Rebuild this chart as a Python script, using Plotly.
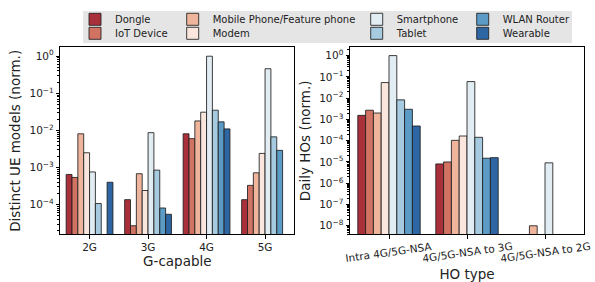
import plotly.graph_objects as go

# ---------------- data ----------------
devices = ["Dongle", "IoT Device", "Mobile Phone/Feature phone", "Modem",
           "Smartphone", "Tablet", "WLAN Router", "Wearable"]
colors = ["#a9303b", "#d27262", "#eeb49c", "#fae6dc",
          "#e2ecf3", "#a6cbe0", "#5b9bc5", "#2d66a3"]

g_categories = ["2G", "3G", "4G", "5G"]
# distinct UE models (norm.), per device, per G-capable category
ue_dongle     = [6.5e-4, 1.36e-4, 8.1e-3, 1.36e-4]
ue_iot        = [5.4e-4, 2.7e-5, 6.0e-3, 3.3e-4]
ue_mobile     = [8.1e-3, 6.8e-4, 1.8e-2, 7.2e-4]
ue_modem      = [2.5e-3, 2.4e-4, 3.1e-2, 2.4e-3]
ue_smartphone = [7.6e-4, 8.7e-3, 1.0, 0.46]
ue_tablet     = [1.07e-4, 8.5e-4, 3.5e-2, 6.7e-3]
ue_wlan       = [None, 8.1e-5, 1.7e-2, 2.9e-3]
ue_wearable   = [4.0e-4, 5.5e-5, 1.1e-2, None]

ho_categories = ["Intra 4G/5G-NSA", "4G/5G-NSA to 3G", "4G/5G-NSA to 2G"]
# daily HOs (norm.), per device, per HO type
ho_dongle     = [1.55e-3, 8.1e-6, None]
ho_iot        = [2.7e-3, 1.0e-5, None]
ho_mobile     = [2.0e-3, 1.04e-4, 1.0e-8]
ho_modem      = [5.4e-2, 1.66e-4, None]
ho_smartphone = [1.0, 6.0e-2, 9.1e-6]
ho_tablet     = [8.3e-3, 1.44e-4, None]
ho_wlan       = [3.0e-3, 1.5e-5, None]
ho_wearable   = [4.9e-4, 1.6e-5, None]

left_tick_exps = [-4, -3, -2, -1, 0]
right_tick_exps = [-8, -7, -6, -5, -4, -3, -2, -1, 0]

ue_series = [ue_dongle, ue_iot, ue_mobile, ue_modem,
             ue_smartphone, ue_tablet, ue_wlan, ue_wearable]
ho_series = [ho_dongle, ho_iot, ho_mobile, ho_modem,
             ho_smartphone, ho_tablet, ho_wlan, ho_wearable]


def sup_label(e):
    s = str(e).replace("-", "\u2212")
    return f"10<sup>{s}</sup>"


FONT = "DejaVu Sans"
TXT = "#222222"
EDGE = "rgba(30,30,30,0.85)"
W, H = 595, 282

fig = go.Figure()

legend_names = ["legend"] + [f"legend{k}" for k in range(2, 9)]
for i, dev in enumerate(devices):
    fig.add_trace(go.Bar(
        x=g_categories, y=ue_series[i], name=dev,
        marker=dict(color=colors[i], line=dict(color=EDGE, width=1)),
        xaxis="x", yaxis="y", legend=legend_names[i], showlegend=True,
    ))
    fig.add_trace(go.Bar(
        x=ho_categories, y=ho_series[i], name=dev,
        marker=dict(color=colors[i], line=dict(color=EDGE, width=1)),
        xaxis="x2", yaxis="y2", showlegend=False,
    ))

# plot areas (pixels)
LX0, LX1 = 60.3, 294.3
RX0, RX1 = 350.0, 584.0
YT, YB = 47.3, 234.3

axis_common = dict(showline=True, linecolor="black", linewidth=1, mirror=True,
                   ticks="outside", ticklen=3.5, tickwidth=1, tickcolor="black",
                   showgrid=False, zeroline=False, automargin=False,
                   tickfont=dict(family=FONT, size=10.5, color=TXT))

TFONT = dict(family=FONT, size=13.5, color=TXT)

fig.update_layout(
    width=W, height=H,
    margin=dict(l=0, r=0, t=0, b=0, autoexpand=False),
    paper_bgcolor="white", plot_bgcolor="white",
    barmode="group", bargap=0.2, bargroupgap=0,
    font=dict(family=FONT, color=TXT),
    xaxis=dict(domain=[LX0 / W, LX1 / W], type="category",
               categoryorder="array", categoryarray=g_categories,
               range=[-0.5, 3.5], anchor="y",
               title=dict(text="G-capable", font=TFONT, standoff=4),
               **axis_common),
    yaxis=dict(domain=[1 - YB / H, 1 - YT / H], type="log", range=[-4.8, 0.24],
               anchor="x",
               tickvals=[10.0 ** e for e in left_tick_exps],
               ticktext=[sup_label(e) for e in left_tick_exps],
               minor=dict(ticks="outside", ticklen=2, tickcolor="black", dtick="D1", showgrid=False),
               title=dict(text="Distinct UE models (norm.)", font=TFONT, standoff=5),
               **axis_common),
    xaxis2=dict(domain=[RX0 / W, RX1 / W], type="category",
                categoryorder="array", categoryarray=ho_categories,
                range=[-0.5, 2.5], anchor="y2", showticklabels=False,
                title=dict(text="HO type", font=TFONT, standoff=31),
                **axis_common),
    yaxis2=dict(domain=[1 - YB / H, 1 - YT / H], type="log", range=[-8.4, 0.39],
                anchor="x2",
                tickvals=[10.0 ** e for e in right_tick_exps],
                ticktext=[sup_label(e) for e in right_tick_exps],
                minor=dict(ticks="outside", ticklen=2, tickcolor="black", dtick="D1", showgrid=False),
                title=dict(text="Daily HOs (norm.)", font=TFONT, standoff=5),
                **axis_common),
)

# rotated HO-type tick labels (centred under ticks)
for cat in ho_categories:
    fig.add_annotation(x=cat, xref="x2", y=1 - 252 / H, yref="paper",
                       text=cat, textangle=-8, showarrow=False,
                       font=dict(family=FONT, size=10.5, color=TXT),
                       xanchor="center", yanchor="middle")

# legend background
fig.add_shape(type="rect", xref="paper", yref="paper",
              x0=83 / W, x1=572 / W, y0=1 - 43 / H, y1=1 - 11 / H,
              fillcolor="#e5e5e5", line=dict(width=0), layer="below")

# legend placement: column-major, 4 columns x 2 rows
col_text_x = [115, 212.7, 396.7, 502.7]
row_y = [19.3, 33.3]
for i, ln in enumerate(legend_names):
    col, row = i // 2, i % 2
    fig.update_layout({ln: dict(
        x=(col_text_x[col] - 40) / W, y=1 - row_y[row] / H,
        xanchor="left", yanchor="middle",
        bgcolor="rgba(0,0,0,0)", borderwidth=0,
        font=dict(family=FONT, size=10, color=TXT),
        itemwidth=30, tracegroupgap=0,
    )})

fig.write_html("out.html",
               config={"displayModeBar": False},
               post_script="document.body.style.margin='0';document.body.style.padding='0';")
